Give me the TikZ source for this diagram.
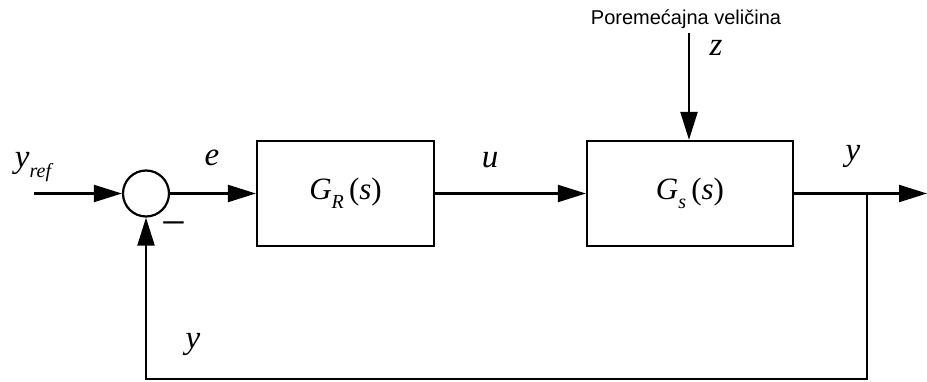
\documentclass[tikz,border=0pt]{standalone}
\usepackage{fontspec}
\setmainfont{Liberation Serif}
\newfontfamily\labelsans{Liberation Sans}
\usetikzlibrary{arrows.meta}
\tikzset{
  blok/.style={draw, line width=2.2pt, inner sep=0pt},
  signal/.style={line width=2.2pt, -{Triangle[length=28pt,width=17pt]}},
  oznaka/.style={inner sep=0pt, font=\fontsize{33}{33}\selectfont\itshape},
}
\newcommand{\podindeks}[1]{\raisebox{-0.3em}{\fontsize{20}{20}\selectfont\itshape #1}}
\begin{document}
\begin{tikzpicture}[x=1pt,y=-1pt]
\useasboundingbox (0,0) rectangle (927,382);
% blokovi
\node[blok, circle, minimum size=46pt] (sum) at (146,193.5) {};
\node[blok, minimum width=177pt, minimum height=105pt] (GR) at (345.5,193.5)
  {\fontsize{31}{31}\selectfont\textit{G}\podindeks{R}\,(\textit{s})};
\node[blok, minimum width=206pt, minimum height=105pt] (Gs) at (690,193.5)
  {\fontsize{31}{31}\selectfont\textit{G}\podindeks{s}\,(\textit{s})};
% tacke
\coordinate (ulaz) at (34,193.5);
\coordinate (izlaz) at (927,193.5);
\coordinate (grana) at (867,193.5);
\coordinate (dno) at (867,379);
\coordinate (poremecaj) at (689,33);
% veze
\draw[signal] (ulaz) -- (sum.west);
\draw[signal] (sum.east) -- (GR.west);
\draw[signal] (GR.east) -- (Gs.west);
\draw[signal] (Gs.east) -- (izlaz);
\draw[signal] (poremecaj) -- (poremecaj |- Gs.north);
\draw[signal] (grana) -- (dno) -| (sum.south);
% oznake
\node[oznaka] (yref) at (33,167) {y\podindeks{ref}};
\node[oznaka] (e) at (212,158) {e};
\node[oznaka] (u) at (490,160) {u};
\node[oznaka] (yizl) at (853,156) {y};
\node[oznaka] (z) at (716,48) {z};
\node[oznaka] (yfb) at (193,344) {y};
\node[oznaka, font=\fontsize{44}{44}\selectfont] (minus) at (174,230) {−};
\node[inner sep=0pt, font=\labelsans\fontsize{20}{20}\selectfont] (naziv) at (686,19) {Poremećajna veličina};
\end{tikzpicture}
\end{document}
